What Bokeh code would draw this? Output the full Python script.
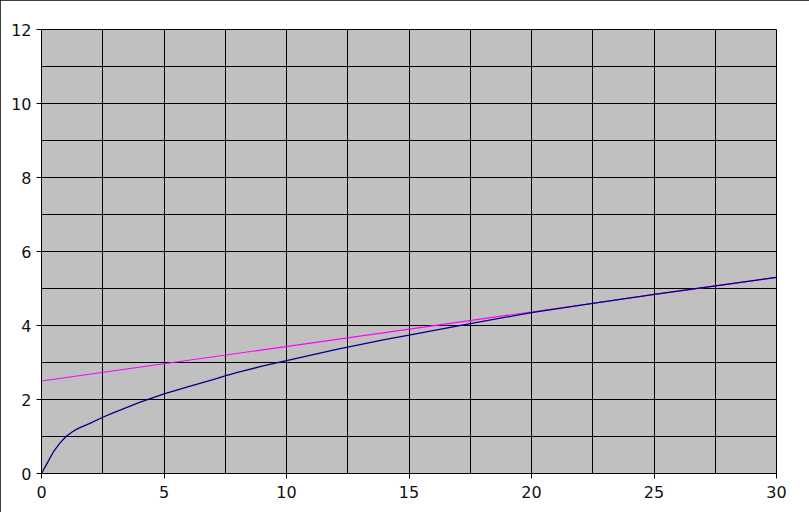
from bokeh.plotting import figure
from bokeh.models import FixedTicker, Range1d
from bokeh.embed import file_html
from bokeh.resources import INLINE

# Blue curve
curve_x = [0, 0.25, 0.5, 0.75, 1, 1.25, 1.5, 2, 2.5, 3, 4, 5, 6, 7, 7.5, 8, 9, 10,
           12, 14, 15, 17.5, 20, 22.5, 25, 27.5, 30]
curve_y = [0, 0.3, 0.6, 0.82, 1.0, 1.12, 1.22, 1.36, 1.52, 1.66, 1.92, 2.15, 2.35,
           2.54, 2.64, 2.73, 2.9, 3.05, 3.35, 3.62, 3.74, 4.05, 4.35, 4.6, 4.84, 5.07, 5.3]

# Magenta straight line
line_x = [0, 30]
line_y = [2.5, 5.3]

x_ticks = [0, 5, 10, 15, 20, 25, 30]
x_minor = [2.5, 7.5, 12.5, 17.5, 22.5, 27.5]
y_ticks = [0, 2, 4, 6, 8, 10, 12]
y_minor = [1, 3, 5, 7, 9, 11]

p = figure(width=809, height=512, output_backend="svg", toolbar_location=None,
           x_range=Range1d(0, 30), y_range=Range1d(0, 12),
           min_border_left=41, min_border_right=33, min_border_top=29, min_border_bottom=39)
p.frame_width = 735
p.frame_height = 444

p.background_fill_color = "#C0C0C0"
p.border_fill_color = "white"
p.outline_line_color = "black"
p.outline_line_width = 1

p.xaxis.ticker = FixedTicker(ticks=x_ticks, minor_ticks=x_minor)
p.yaxis.ticker = FixedTicker(ticks=y_ticks, minor_ticks=y_minor)

for ax in (p.xaxis, p.yaxis):
    ax.axis_line_color = "black"
    ax.major_tick_line_color = "black"
    ax.major_tick_out = 5
    ax.major_tick_in = 0
    ax.minor_tick_line_color = None
    ax.major_label_text_font = "DejaVu Sans"
    ax.major_label_text_font_size = "16px"
    ax.major_label_text_color = "#111111"
p.xaxis.major_label_standoff = 7
p.yaxis.major_label_standoff = 5

for g in (p.xgrid, p.ygrid):
    g.grid_line_color = "black"
    g.grid_line_width = 1
    g.minor_grid_line_color = "black"
    g.minor_grid_line_width = 1

p.line(line_x, line_y, line_color="#FF00FF", line_width=1.2)
p.line(curve_x, curve_y, line_color="#000080", line_width=1.3)

p.styles = {"outline": "1px solid black", "outline-offset": "-1px"}

open("out.html", "w").write(file_html(p, INLINE))
